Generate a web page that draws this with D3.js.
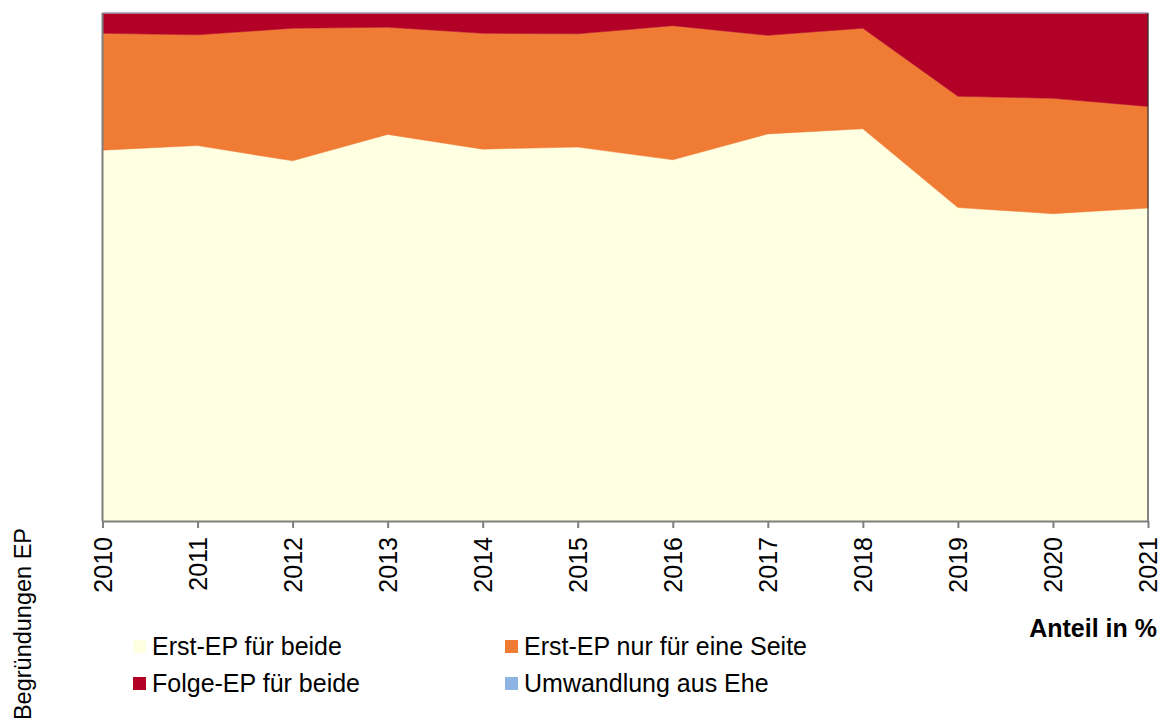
<!DOCTYPE html>
<html>
<head>
<meta charset="utf-8">
<script src="https://cdn.jsdelivr.net/npm/d3@7"></script>
<style>
  html, body { margin: 0; padding: 0; background: #fff; }
  svg { display: block; font-family: "Liberation Sans", Arial, sans-serif; }
</style>
</head>
<body>
<svg id="chart" width="1161" height="722"></svg>
<script>
// Shares of registered partnerships by type of foundation (in %)
const years = [2010, 2011, 2012, 2013, 2014, 2015, 2016, 2017, 2018, 2019, 2020, 2021];
const erstBeide   = [73.0, 73.9, 70.9, 76.1, 73.2, 73.6, 71.1, 76.2, 77.2, 61.7, 60.5, 61.6];
const erstEine    = [23.0, 21.8, 26.1, 21.1, 22.8, 22.3, 26.4, 19.4, 19.8, 21.9, 22.7, 20.0];
const folgeBeide  = [4.0, 4.3, 3.0, 2.8, 4.0, 4.1, 2.5, 4.4, 3.0, 16.4, 16.8, 18.4];
const umwandlung  = [0, 0, 0, 0, 0, 0, 0, 0, 0, 0, 0, 0];

const seriesNames = ["Erst-EP für beide", "Erst-EP nur für eine Seite", "Folge-EP für beide", "Umwandlung aus Ehe"];
const seriesColors = ["#FFFFE1", "#EF7B35", "#B30027", "#8DB4E2"];
const yAxisTitle = "Begründungen EP";
const xAxisTitle = "Anteil in %";

const rows = years.map((yr, i) => ({
  year: yr,
  [seriesNames[0]]: erstBeide[i],
  [seriesNames[1]]: erstEine[i],
  [seriesNames[2]]: folgeBeide[i],
  [seriesNames[3]]: umwandlung[i]
}));

const svg = d3.select("#chart");
const plotLeft = 102.5, plotRight = 1148, plotTop = 13, plotBottom = 521;

const x = d3.scaleLinear().domain([2010, 2021]).range([plotLeft, plotRight]);
const y = d3.scaleLinear().domain([0, 100]).range([plotBottom, plotTop]);
const color = d3.scaleOrdinal().domain(seriesNames).range(seriesColors);

// Normalise each year to 100 % so the stack fills the frame exactly
const stack = d3.stack().keys(seriesNames).offset(d3.stackOffsetExpand);
const stacked = stack(rows);
const yPct = v => y(v * 100);

const area = d3.area()
  .x(d => x(d.data.year))
  .y0(d => yPct(d[0]))
  .y1(d => yPct(d[1]));

svg.append("g")
  .selectAll("path")
  .data(stacked)
  .join("path")
  .attr("d", area)
  .attr("fill", d => color(d.key))
  .attr("stroke", d => color(d.key))
  .attr("stroke-width", 0.5);

// Frame lines
svg.append("line").attr("x1", plotLeft).attr("x2", plotRight).attr("y1", plotTop).attr("y2", plotTop)
  .attr("stroke", "#a6a6a6").attr("stroke-width", 1.2);
svg.append("line").attr("x1", plotRight).attr("x2", plotRight).attr("y1", plotTop).attr("y2", plotBottom)
  .attr("stroke", "#333").attr("stroke-width", 1.2);
svg.append("line").attr("x1", plotLeft).attr("x2", plotLeft).attr("y1", plotTop).attr("y2", plotBottom)
  .attr("stroke", "#7f7f7f").attr("stroke-width", 2);

// X axis with rotated year labels
const xAxis = d3.axisBottom(x)
  .tickValues(years)
  .tickFormat(d3.format("d"))
  .tickSize(7)
  .tickSizeOuter(0);

const gx = svg.append("g").attr("transform", `translate(0,${plotBottom})`).call(xAxis);
gx.select(".domain").attr("stroke", "#7f7f7f").attr("stroke-width", 2);
gx.selectAll(".tick line").attr("stroke", "#7f7f7f").attr("stroke-width", 2);
gx.selectAll(".tick text")
  .attr("font-size", 25)
  .attr("fill", "#000")
  .attr("transform", "rotate(-90)")
  .attr("text-anchor", "end")
  .attr("x", -16)
  .attr("y", 0)
  .attr("dy", "0.35em");

// Axis titles
svg.append("text")
  .attr("transform", "translate(31,528) rotate(-90)")
  .attr("text-anchor", "end")
  .attr("font-size", 23.5)
  .attr("fill", "#000")
  .text(yAxisTitle);

svg.append("text")
  .attr("x", 1157).attr("y", 637)
  .attr("text-anchor", "end")
  .attr("font-size", 25)
  .attr("font-weight", "bold")
  .attr("fill", "#000")
  .text(xAxisTitle);

// Legend, two columns
const legendPos = [
  { x: 133, y: 640 },
  { x: 505, y: 640 },
  { x: 133, y: 677 },
  { x: 505, y: 677 }
];
const legend = svg.append("g")
  .selectAll("g")
  .data(seriesNames)
  .join("g")
  .attr("transform", (d, i) => `translate(${legendPos[i].x},${legendPos[i].y})`);

legend.append("rect")
  .attr("width", 13).attr("height", 13)
  .attr("fill", d => color(d));

legend.append("text")
  .attr("x", 19).attr("y", 15)
  .attr("font-size", 25)
  .attr("fill", "#000")
  .text(d => d);
</script>
</body>
</html>
